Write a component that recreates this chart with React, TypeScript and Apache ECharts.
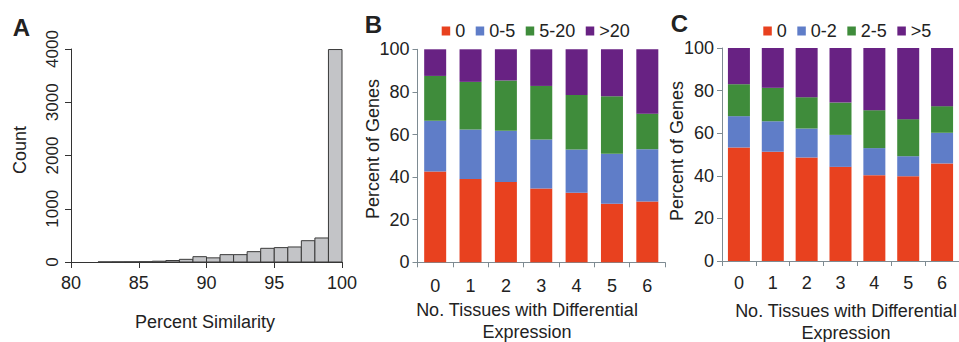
import React, { useEffect, useRef } from "react";
import * as echarts from "echarts";

// Panel A: histogram of percent similarity (bins of width 1)
const histBinStart = [82, 83, 84, 85, 86, 87, 88, 89, 90, 91, 92, 93, 94, 95, 96, 97, 98, 99];
const histCounts = [2, 3, 4, 6, 15, 28, 50, 100, 78, 138, 138, 194, 257, 270, 282, 400, 451, 3990];
const histBinWidth = 1;

// Panels B and C: stacked percentages
const tissueCategories = ["0", "1", "2", "3", "4", "5", "6"];

const bNames = ["0", "0-5", "5-20", ">20"];
const bRed = [42.6, 39.1, 37.7, 34.7, 32.7, 27.5, 28.6];
const bBlue = [23.8, 23.3, 24.1, 23.0, 20.2, 23.5, 24.5];
const bGreen = [21.1, 22.3, 23.5, 25.1, 25.7, 26.9, 16.7];
const bPurple = [12.5, 15.3, 14.7, 17.2, 21.4, 22.1, 30.2];

const cNames = ["0", "0-2", "2-5", ">5"];
const cRed = [53.3, 51.3, 48.6, 44.2, 40.3, 39.8, 45.8];
const cBlue = [14.7, 14.3, 13.6, 15.0, 12.7, 9.4, 14.4];
const cGreen = [15.0, 15.7, 14.7, 15.2, 17.8, 17.4, 12.5];
const cPurple = [17.0, 18.7, 23.1, 25.6, 29.2, 33.4, 27.3];

const COLORS = ["#e8411f", "#5f7dc8", "#3f8c3b", "#682283"];
const FONT = "'Liberation Sans', Arial, Helvetica, sans-serif";
const TXT = "#222222";
const AXB = "#7e8b92";

export default function App() {
  const ref = useRef<HTMLDivElement>(null);
  useEffect(() => {
    document.body.style.margin = "0";
    if (!ref.current) return;
    const chart = echarts.init(ref.current, undefined, { renderer: "svg" });

    const barAxisCommon = (labelMargin: number) => ({
      type: "category" as const,
      data: tissueCategories,
      boundaryGap: true,
      axisLine: { show: true, lineStyle: { color: AXB, width: 1 } },
      axisTick: { show: true, length: 5, alignWithLabel: false, lineStyle: { color: AXB } },
      axisLabel: { fontSize: 18, color: TXT, fontFamily: FONT, margin: labelMargin },
      splitLine: { show: false },
    });
    const pctAxis = (labelMargin: number) => ({
      type: "value" as const,
      min: 0,
      max: 100,
      interval: 20,
      axisLine: { show: true, lineStyle: { color: AXB, width: 1 } },
      axisTick: { show: true, length: 5, lineStyle: { color: AXB } },
      axisLabel: { fontSize: 18, color: TXT, fontFamily: FONT, margin: labelMargin },
      splitLine: { show: false },
    });

    const stackSeries = (names: string[], arrays: number[][], idx: number, stack: string) =>
      arrays.map((arr, i) => ({
        type: "bar" as const,
        name: names[i],
        stack,
        xAxisIndex: idx,
        yAxisIndex: idx,
        barWidth: 22,
        data: arr,
        itemStyle: { color: COLORS[i] },
      }));

    const txt = (text: string, x: number, y: number, opts: any = {}) => ({
      type: "text",
      x,
      y,
      rotation: opts.rotation || 0,
      style: {
        text,
        fontSize: opts.fontSize || 18,
        fontWeight: opts.fontWeight || "normal",
        fontFamily: FONT,
        fill: TXT,
        align: opts.align || "center",
        textAlign: opts.align || "center",
        verticalAlign: opts.verticalAlign || "middle",
        textVerticalAlign: opts.verticalAlign || "middle",
        lineHeight: opts.lineHeight,
      },
    });

    chart.setOption({
      animation: false,
      textStyle: { fontFamily: FONT },
      grid: [
        { left: 71, top: 49, width: 271, height: 213 },
        { left: 417.5, top: 49.3, width: 247.5, height: 213 },
        { left: 722, top: 48, width: 248.5, height: 213 },
      ],
      legend: [
        {
          data: bNames,
          left: 441.7,
          top: 22,
          padding: 0,
          icon: "rect",
          itemWidth: 8.5,
          itemHeight: 9,
          itemGap: 10.5,
          selectedMode: false,
          textStyle: { fontSize: 18, color: TXT, fontFamily: FONT },
        },
        {
          data: cNames,
          left: 763.3,
          top: 22,
          padding: 0,
          icon: "rect",
          itemWidth: 8.5,
          itemHeight: 9,
          itemGap: 10.5,
          selectedMode: false,
          textStyle: { fontSize: 18, color: TXT, fontFamily: FONT },
        },
      ],
      xAxis: [
        {
          gridIndex: 0,
          type: "value",
          min: 80,
          max: 100,
          interval: 5,
          axisLine: { show: true, lineStyle: { color: "#333", width: 1 } },
          axisTick: { show: true, length: 6, lineStyle: { color: "#333" } },
          axisLabel: { fontSize: 18, color: TXT, fontFamily: FONT, margin: 12 },
          splitLine: { show: false },
        },
        { gridIndex: 1, ...barAxisCommon(15) },
        { gridIndex: 2, ...barAxisCommon(12.5) },
      ],
      yAxis: [
        {
          gridIndex: 0,
          type: "value",
          min: 0,
          max: 4000,
          interval: 1000,
          axisLine: { show: true, lineStyle: { color: "#333", width: 1 } },
          axisTick: { show: true, length: 6, lineStyle: { color: "#333" } },
          axisLabel: {
            fontSize: 17,
            color: TXT,
            fontFamily: FONT,
            margin: 10,
            rotate: 90,
            formatter: (v: number) => String(v),
          },
          splitLine: { show: false },
        },
        { gridIndex: 1, ...pctAxis(8) },
        { gridIndex: 2, ...pctAxis(8) },
      ],
      series: [
        {
          type: "custom",
          name: "hist",
          xAxisIndex: 0,
          yAxisIndex: 0,
          clip: false,
          data: histBinStart.map((s, i) => [s, histCounts[i]]),
          renderItem: (params: any, api: any) => {
            const start = api.value(0);
            const count = api.value(1);
            const p0 = api.coord([start, 0]);
            const p1 = api.coord([start + histBinWidth, count]);
            return {
              type: "rect",
              shape: { x: p0[0], y: p1[1], width: p1[0] - p0[0], height: p0[1] - p1[1] },
              style: { fill: "#c3c4c7", stroke: "#3a3a3a", lineWidth: 1 },
            };
          },
        },
        ...stackSeries(bNames, [bRed, bBlue, bGreen, bPurple], 1, "B"),
        ...stackSeries(cNames, [cRed, cBlue, cGreen, cPurple], 2, "C"),
      ],
      graphic: [
        txt("A", 21.5, 27, { fontSize: 24, fontWeight: "bold" }),
        txt("B", 373.5, 24.5, { fontSize: 24, fontWeight: "bold" }),
        txt("C", 679.5, 23, { fontSize: 24, fontWeight: "bold" }),
        txt("Count", 20, 150, { fontSize: 18, rotation: Math.PI / 2 }),
        txt("Percent Similarity", 205, 322, { fontSize: 18 }),
        txt("Percent of Genes", 373, 149, { fontSize: 18, rotation: Math.PI / 2 }),
        txt("Percent of Genes", 677, 151, { fontSize: 18, rotation: Math.PI / 2 }),
        txt("No. Tissues with Differential\nExpression", 527, 320.5, { fontSize: 18, lineHeight: 22 }),
        txt("No. Tissues with Differential\nExpression", 846, 321.5, { fontSize: 18, lineHeight: 22 }),
      ],
    });
    return () => chart.dispose();
  }, []);
  return <div ref={ref} style={{ width: 959, height: 342 }} />;
}
